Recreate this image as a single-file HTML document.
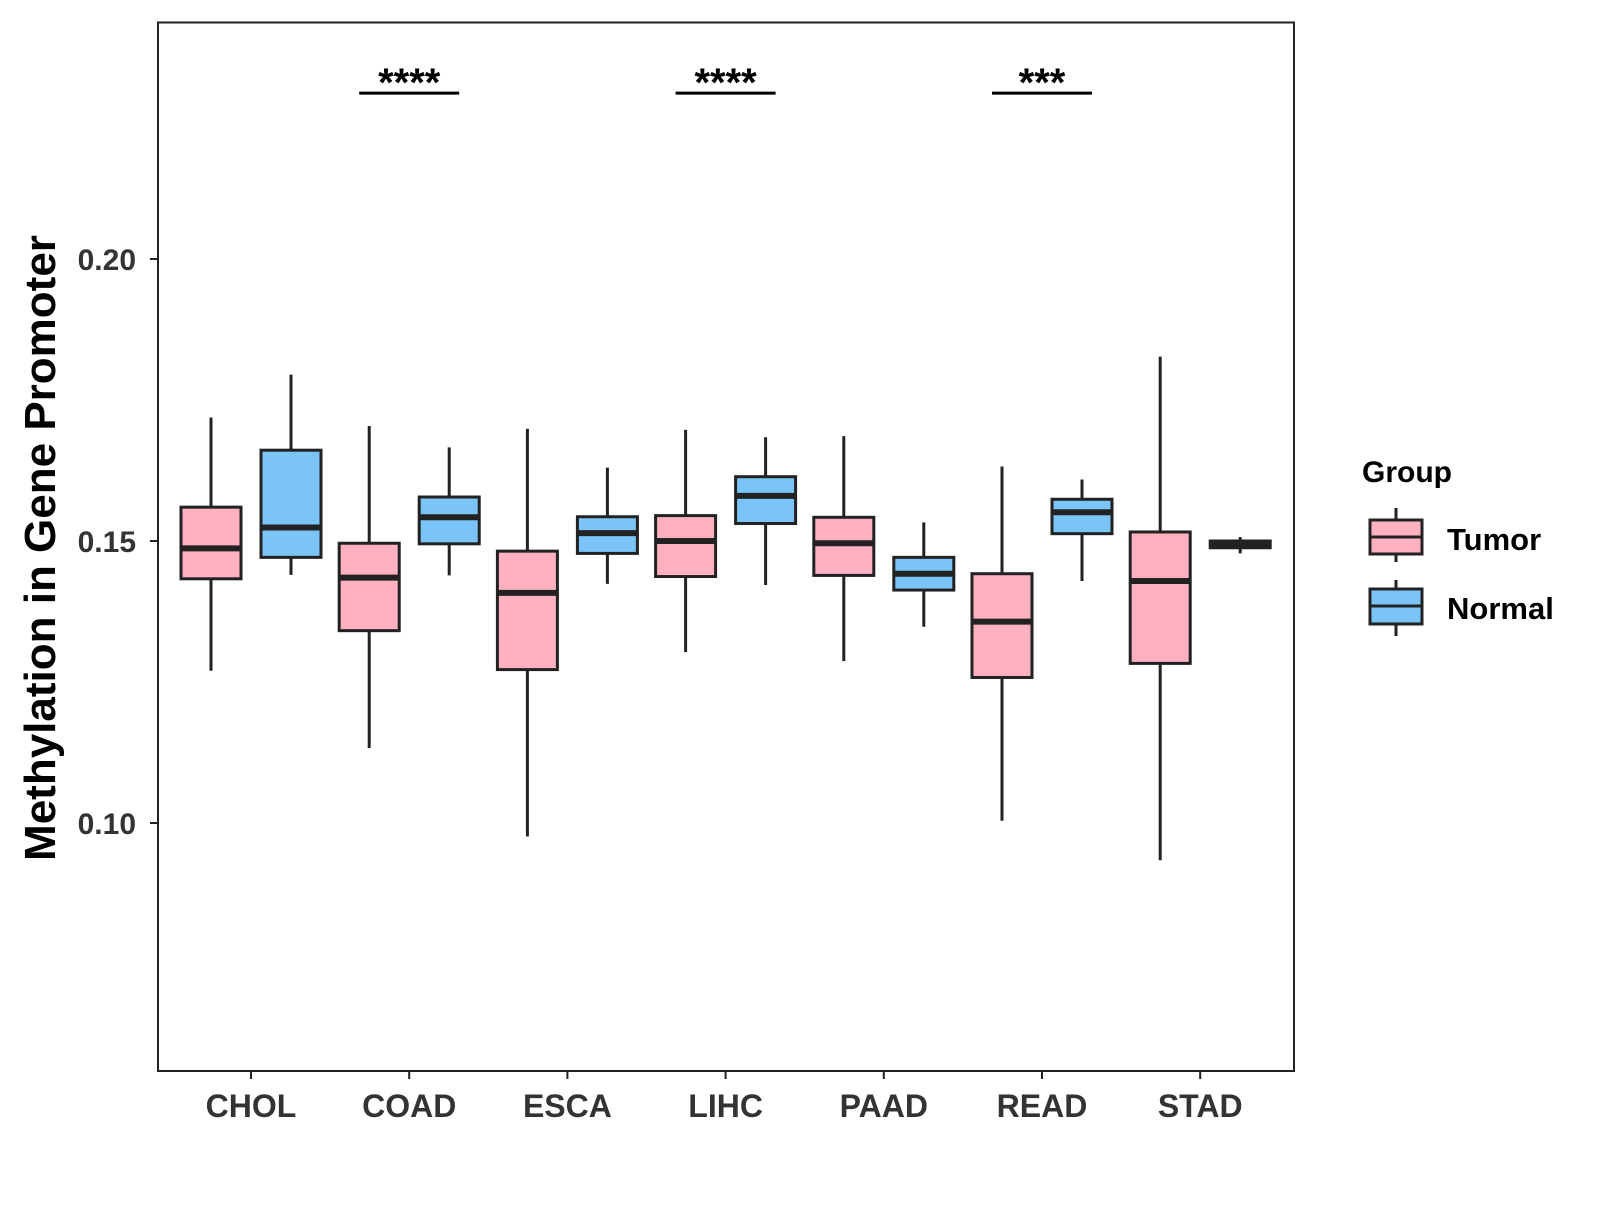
<!DOCTYPE html>
<html><head><meta charset="utf-8"><style>
body{margin:0;background:#fff}
svg text{font-family:"Liberation Sans",Arial,sans-serif;font-weight:bold}
</style></head><body>
<svg id="chart" width="1600" height="1200" xmlns="http://www.w3.org/2000/svg">
<rect x="0" y="0" width="1600" height="1200" fill="#fff"/>
<g id="marks"></g>
<rect x="158" y="22.5" width="1136" height="1048.5" fill="none" stroke="#222" stroke-width="2"/>
<text transform="translate(55,548) rotate(-90)" text-anchor="middle" font-size="44" fill="#000">Methylation in Gene Promoter</text>
<g>
<text x="1362" y="482" font-size="30" fill="#000">Group</text>
<line x1="1396" y1="508" x2="1396" y2="520" stroke="#222" stroke-width="3"/>
<rect x="1370" y="520" width="52" height="34" fill="#FFB1C1" stroke="#222" stroke-width="3"/>
<line x1="1370" y1="537" x2="1422" y2="537" stroke="#222" stroke-width="3"/>
<line x1="1396" y1="554" x2="1396" y2="562" stroke="#222" stroke-width="3"/>
<text x="1447" y="550" font-size="31" fill="#000">Tumor</text>
<line x1="1396" y1="580" x2="1396" y2="589" stroke="#222" stroke-width="3"/>
<rect x="1370" y="589" width="52" height="35" fill="#7AC4F8" stroke="#222" stroke-width="3"/>
<line x1="1370" y1="606" x2="1422" y2="606" stroke="#222" stroke-width="3"/>
<line x1="1396" y1="624" x2="1396" y2="636" stroke="#222" stroke-width="3"/>
<text x="1447" y="619" font-size="31" fill="#000">Normal</text>
</g>
</svg>
<script>
const categories=["CHOL","COAD","ESCA","LIHC","PAAD","READ","STAD"];
// [lowerWhisker, q1, median, q3, upperWhisker]
const tumorStats=[[0.1270,0.1433,0.1487,0.1560,0.1719],[0.1133,0.1341,0.1435,0.1496,0.1704],[0.0976,0.1272,0.1408,0.1482,0.1699],[0.1303,0.1437,0.1500,0.1545,0.1697],[0.1287,0.1439,0.1496,0.1542,0.1686],[0.1004,0.1258,0.1357,0.1442,0.1632],[0.0934,0.1283,0.1429,0.1516,0.1827]];
const normalStats=[[0.1440,0.1471,0.1524,0.1661,0.1795],[0.1439,0.1495,0.1542,0.1578,0.1666],[0.1424,0.1478,0.1514,0.1543,0.1630],[0.1422,0.1531,0.1580,0.1614,0.1684],[0.1348,0.1413,0.1442,0.1471,0.1533],[0.1429,0.1513,0.1551,0.1574,0.1609],[0.1478,0.1488,0.1495,0.1500,0.1507]];
const yTicks=[0.10,0.15,0.20];
const yTickLabels=["0.10","0.15","0.20"];
const sigCategories=["COAD","LIHC","READ"];
const sigLabels=["****","****","***"];
const sigLevel=0.2294;

const NS="http://www.w3.org/2000/svg";
const g=document.getElementById("marks");
function yScale(v){return 541-(v-0.15)*5640;}
function xScale(i){return 251+i*158.2;}
function mk(tag,attrs){const e=document.createElementNS(NS,tag);for(const k in attrs)e.setAttribute(k,attrs[k]);g.appendChild(e);return e;}

yTicks.forEach((t,i)=>{
  const y=yScale(t);
  const l=mk("line",{x1:150,x2:158,y1:y,y2:y,stroke:"#222","stroke-width":2});
  
  
  const tx=mk("text",{x:136,y:y+11,"text-anchor":"end","font-size":30,fill:"#333"});
  tx.textContent=yTickLabels[i];
  
  
});
categories.forEach((c,i)=>{
  const x=xScale(i);
  const l=mk("line",{x1:x,x2:x,y1:1071,y2:1079,stroke:"#222","stroke-width":2});
  
  
  const tx=mk("text",{x:x,y:1117,"text-anchor":"middle","font-size":32,fill:"#333"});
  tx.textContent=c;
  
  
});
function drawBox(s,cx,fill,name){
  const w=60;
  const wl=mk("line",{x1:cx,x2:cx,y1:yScale(s[4]),y2:yScale(s[0]),stroke:"#222","stroke-width":3});
  
  
  const top=yScale(s[3]),bot=yScale(s[1]);
  const r=mk("rect",{x:cx-w/2,y:top,width:w,height:Math.max(bot-top,1),fill:fill,stroke:"#222","stroke-width":3});
  
  
  const m=mk("line",{x1:cx-w/2,x2:cx+w/2,y1:yScale(s[2]),y2:yScale(s[2]),stroke:"#222","stroke-width":6});
  
  
}
categories.forEach((c,i)=>{
  drawBox(tumorStats[i],xScale(i)-40,"#FFB1C1","tumor-"+c.toLowerCase());
  drawBox(normalStats[i],xScale(i)+40,"#7AC4F8","normal-"+c.toLowerCase());
});
sigCategories.forEach((c,k)=>{
  const x=xScale(categories.indexOf(c));
  const y=yScale(sigLevel);
  const l=mk("line",{x1:x-50,x2:x+50,y1:y,y2:y,stroke:"#000","stroke-width":3});
  
  
  const t=mk("text",{x:x,y:y+3,"text-anchor":"middle","font-size":40,fill:"#000"});
  t.textContent=sigLabels[k];
  
  
});
</script>
</body></html>
